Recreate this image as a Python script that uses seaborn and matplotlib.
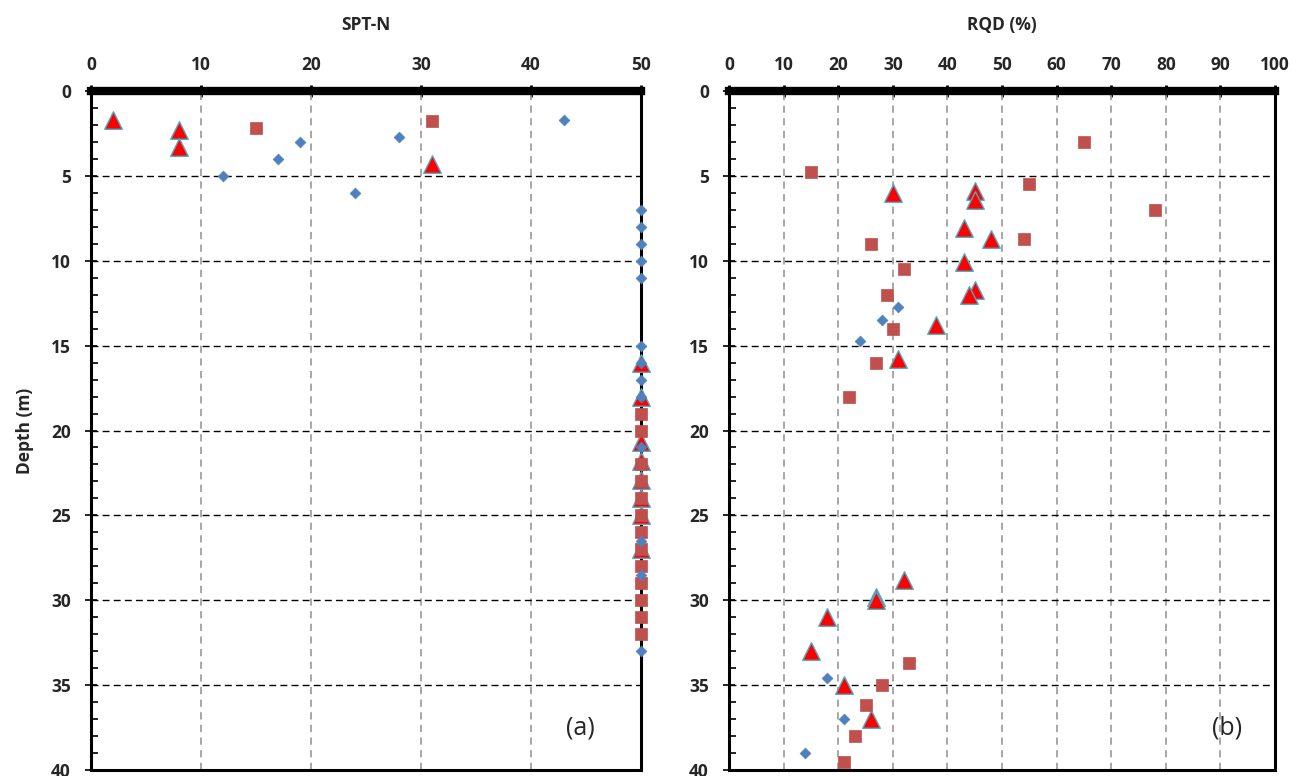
import numpy as np
import pandas as pd
import matplotlib
matplotlib.use("Agg")
import matplotlib.pyplot as plt
import seaborn as sns
from matplotlib.ticker import MultipleLocator

# ---------------- data ----------------
# Panel (a) SPT-N
spt_d_x = [43, 28, 19, 17, 12, 24, 50, 50, 50, 50, 50, 50, 50, 50, 50, 50, 50, 50, 50]
spt_d_y = [1.7, 2.7, 3.0, 4.0, 5.0, 6.0, 7, 8, 9, 10, 11, 15, 16, 17, 18, 21, 26.5, 28.5, 33]
spt_s_x = [31, 15, 50, 50, 50, 50, 50, 50, 50, 50, 50, 50, 50, 50, 50]
spt_s_y = [1.75, 2.2, 19, 20, 22, 23, 24, 25, 26, 27, 28, 29, 30, 31, 32]
spt_t_x = [2, 8, 8, 31, 50, 50, 50, 50, 50, 50, 50, 50]
spt_t_y = [1.7, 2.3, 3.3, 4.3, 16, 18, 20.7, 21.8, 22.9, 24, 25, 27]

# Panel (b) RQD
rqd_d_x = [31, 28, 24, 18, 21, 14]
rqd_d_y = [12.7, 13.5, 14.7, 34.6, 37, 39]
rqd_s_x = [65, 15, 55, 78, 26, 54, 32, 29, 30, 27, 22, 33, 28, 25, 23, 21]
rqd_s_y = [3, 4.8, 5.5, 7, 9, 8.7, 10.5, 12, 14, 16, 18, 33.7, 35, 36.2, 38, 39.5]
rqd_t_x = [30, 45, 45, 43, 48, 43, 45, 44, 38, 31, 32, 27, 27, 18, 15, 21, 26]
rqd_t_y = [6, 5.9, 6.4, 8.1, 8.7, 10.1, 11.7, 12, 13.8, 15.8, 28.8, 29.8, 30, 31, 33, 35, 37]

x_titles = ["SPT-N", "RQD (%)"]
panel_labels = ["(a)", "(b)"]
y_label = "Depth (m)"

# ---------------- style ----------------
sns.set_theme(style="white")
plt.rcParams['font.family'] = ['Open Sans', 'DejaVu Sans']

W, H = 1303, 776
fig = plt.figure(figsize=(W / 100, H / 100), dpi=100)
ax1 = fig.add_axes([91 / W, 1 - 770 / H, 550 / W, 679 / H])
ax2 = fig.add_axes([729 / W, 1 - 770 / H, 546 / W, 679 / H])

C_D = "#4F81BD"
C_S = "#C0504D"
C_T = "#FF0000"
C_TE = "#4BACC6"


def draw(ax, dx, dy, sx, sy, tx, ty):
    sns.scatterplot(x=tx, y=ty, ax=ax, marker="^", s=160, color=C_T,
                    edgecolor=C_TE, linewidth=1.0, clip_on=False, zorder=5)
    sns.scatterplot(x=sx, y=sy, ax=ax, marker="s", s=85, color=C_S,
                    edgecolor=C_S, linewidth=0.5, clip_on=False, zorder=6)
    sns.scatterplot(x=dx, y=dy, ax=ax, marker="D", s=30, color=C_D,
                    edgecolor=C_D, linewidth=0.5, clip_on=False, zorder=7)


draw(ax1, spt_d_x, spt_d_y, spt_s_x, spt_s_y, spt_t_x, spt_t_y)
draw(ax2, rqd_d_x, rqd_d_y, rqd_s_x, rqd_s_y, rqd_t_x, rqd_t_y)

for i, (ax, xmax) in enumerate([(ax1, 50), (ax2, 100)]):
    ax.set_xlim(0, xmax)
    ax.set_ylim(40, 0)
    ax.xaxis.set_major_locator(MultipleLocator(10))
    ax.yaxis.set_major_locator(MultipleLocator(5))
    ax.yaxis.set_minor_locator(MultipleLocator(1))
    ax.xaxis.tick_top()
    ax.xaxis.set_label_position("top")
    ax.tick_params(axis="x", which="major", direction="inout", length=9, width=2,
                   color="black", pad=8, labelsize=12.5)
    ax.tick_params(axis="y", which="major", direction="inout", length=9, width=1.2,
                   color="black", pad=10, labelsize=12.5, left=True)
    ax.tick_params(axis="y", which="minor", direction="in", length=5, width=1.2,
                   color="black", left=True)
    for lab in ax.get_xticklabels() + ax.get_yticklabels():
        lab.set_fontweight("bold")
    for s in ["left", "right", "bottom"]:
        ax.spines[s].set_visible(True)
        ax.spines[s].set_color("black")
        ax.spines[s].set_linewidth(2.2)
    ax.spines["top"].set_visible(True)
    ax.spines["top"].set_color("black")
    ax.spines["top"].set_linewidth(6)
    ax.grid(False)
    for xv in range(10, xmax, 10):
        ax.axvline(xv, color="#a0a0a0", lw=1.3, ls=(0, (4, 3)), zorder=1)
    for yv in range(5, 40, 5):
        ax.axhline(yv, color="black", lw=1.0, ls=(0, (5, 3)), zorder=1)
    ax.set_xlabel("")
    ax.set_ylabel("")
    ax.set_title(x_titles[i], fontsize=12.5, fontweight="bold", pad=44)
    ax.text(0.89 if i == 0 else 0.912, 0.062, panel_labels[i], transform=ax.transAxes,
            fontsize=18, ha="center", va="center", zorder=10)

ax1.set_ylabel(y_label, fontsize=12.5, fontweight="bold", labelpad=12)

fig.savefig("out.png", dpi=100)
